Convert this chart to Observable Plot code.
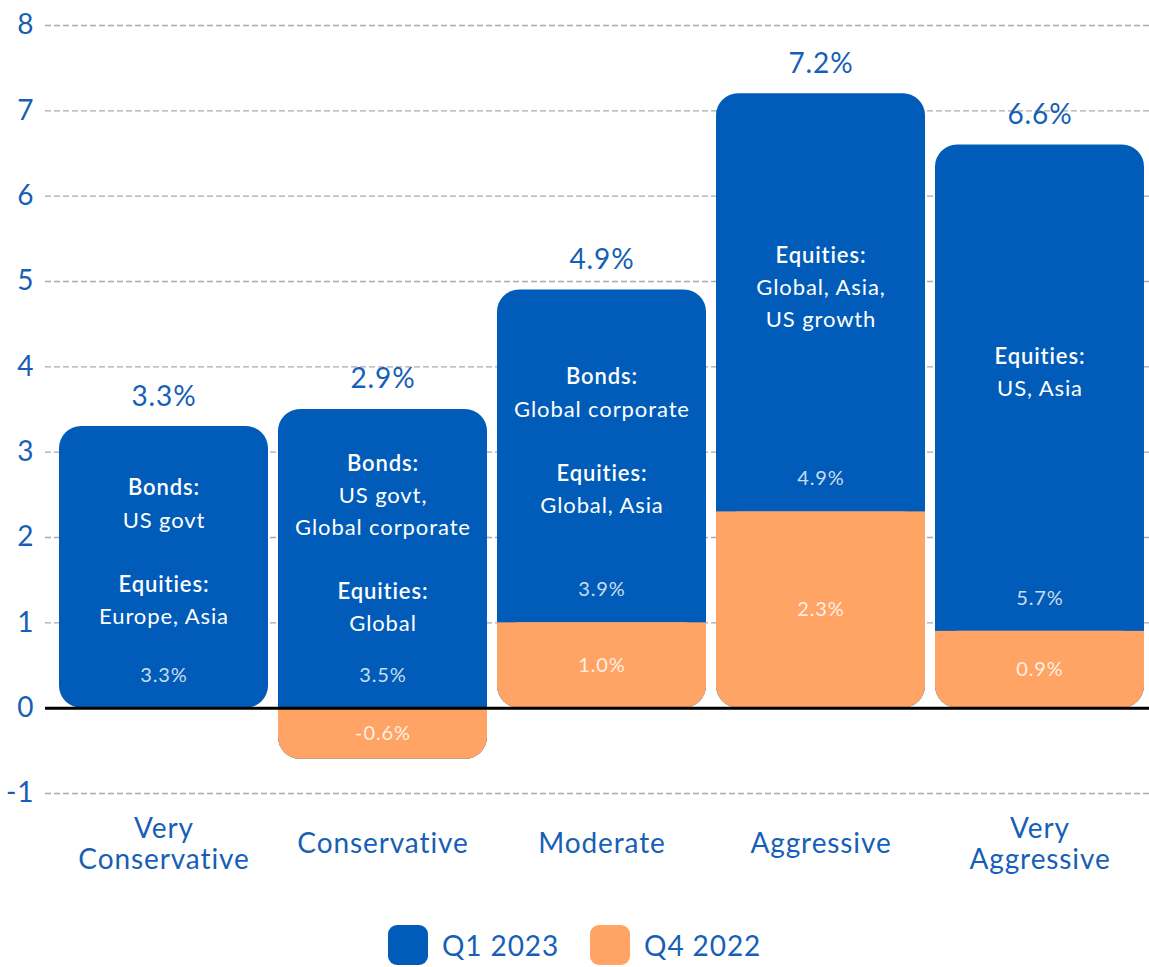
<!DOCTYPE html>
<html><head><meta charset="utf-8">
<script src="https://cdn.jsdelivr.net/npm/d3@7"></script>
<script src="https://cdn.jsdelivr.net/npm/@observablehq/plot@0.6"></script>
<style>
body{margin:0;background:#fff;font-family:Lato, "Open Sans", sans-serif;font-variant-ligatures:none;}
svg text{font-variant-ligatures:none;letter-spacing:0.9px;}
#legend{display:flex;align-items:center;margin-left:388px;margin-top:25px;height:40px;}
.sw{width:40px;height:40px;border-radius:9px;}
.lab{font-size:28px;color:#175FB6;margin-left:14px;margin-right:31px;letter-spacing:0.9px;}
</style></head><body>
<div id="chart"></div>
<div id="legend"></div>
<script>
const categories = ["Very Conservative","Conservative","Moderate","Aggressive","Very Aggressive"];
const categoryLabels = ["Very\nConservative","Conservative","Moderate","Aggressive","Very\nAggressive"];
const q1_2023 = [3.3, 3.5, 3.9, 4.9, 5.7];
const q4_2022 = [0, -0.6, 1.0, 2.3, 0.9];
const totals = [3.3, 2.9, 4.9, 7.2, 6.6];
const yTicks = [-1, 0, 1, 2, 3, 4, 5, 6, 7, 8];
const notes = [
  [["Bonds:", "US govt"], ["Equities:", "Europe, Asia"]],
  [["Bonds:", "US govt,", "Global corporate"], ["Equities:", "Global"]],
  [["Bonds:", "Global corporate"], ["Equities:", "Global, Asia"]],
  [["Equities:", "Global, Asia,", "US growth"]],
  [["Equities:", "US, Asia"]]
];
const series = ["Q1 2023", "Q4 2022"];
const colors = ["#005CB8", "#FFA464"];
const textBlue = "#175FB6";

const rows = categories.map((c, i) => {
  const a = q1_2023[i], b = q4_2022[i];
  const blue = b >= 0 ? [b, b + a] : [0, a];
  const orange = b >= 0 ? [0, b] : [b, 0];
  return {c, i, a, b, total: totals[i],
    blueLo: blue[0], blueHi: blue[1], orLo: orange[0], orHi: orange[1],
    lo: Math.min(blue[0], orange[0]), hi: Math.max(blue[1], orange[1])};
});
const withQ4 = rows.filter(r => r.b !== 0);

function noteText(groups, heading) {
  const lines = [];
  groups.forEach((g, gi) => {
    if (gi > 0) lines.push("");
    g.forEach((t, ti) => lines.push((ti === 0) === heading ? t : ""));
  });
  return lines.join("\n");
}

const fmt = v => v.toFixed(1) + "%";

const plot = Plot.plot({
  width: 1149, height: 900,
  marginTop: 25, marginBottom: 107, marginLeft: 45, marginRight: 0,
  style: {fontFamily: "Lato, 'Open Sans', sans-serif", background: "white", overflow: "visible"},
  x: {domain: categories, range: [54, 1149], paddingInner: 0.046, paddingOuter: 0.023, axis: null},
  y: {domain: [-1, 8], axis: null},
  marks: [
    Plot.ruleY(yTicks.filter(d => d !== 0), {stroke: "#aaa", strokeDasharray: "6,3", strokeWidth: 1.3}),
    Plot.axisY(yTicks, {anchor: "left", tickSize: 0, tickPadding: 11, fontSize: 28, fill: textBlue, label: null, tickFormat: d => String(d)}),
    Plot.barY(rows, {x: "c", y1: "lo", y2: "hi", fill: colors[0], rx: 22}),
    Plot.barY(withQ4, {x: "c", y1: "orLo", y2: "orHi", fill: colors[1], rx: 22}),
    Plot.barY(withQ4, {x: "c", y1: r => r.b / 2, y2: r => (r.b > 0 ? r.b : 0), fill: colors[1]}),
    Plot.ruleY([0], {stroke: "black", strokeWidth: 3}),
    Plot.text(rows, {x: "c", y: "hi", text: r => fmt(r.total), dy: -30, fontSize: 28, fill: textBlue}),
    Plot.text(rows, {x: "c", y: "blueLo", text: r => fmt(r.a), dy: -33, fontSize: 20, fill: "white", fillOpacity: 0.8}),
    Plot.text(withQ4, {x: "c", y: r => (r.orLo + r.orHi) / 2, text: r => fmt(r.b), fontSize: 20, fill: "white", fillOpacity: 0.85}),
    Plot.text(rows, {x: "c", y: r => (r.blueLo + r.blueHi) / 2, text: r => noteText(notes[r.i], true), dy: -18, fontSize: 22, fontWeight: 600, fill: "white", lineHeight: 1.46, lineAnchor: "middle"}),
    Plot.text(rows, {x: "c", y: r => (r.blueLo + r.blueHi) / 2, text: r => noteText(notes[r.i], false), dy: -18, fontSize: 22, fill: "white", lineHeight: 1.46, lineAnchor: "middle"}),
    Plot.text(rows, {x: "c", text: r => categoryLabels[r.i], frameAnchor: "bottom", lineAnchor: "middle", dy: 50, fontSize: 28, fill: textBlue, lineHeight: 1.1})
  ]
});
document.getElementById("chart").appendChild(plot);

const legend = document.getElementById("legend");
series.forEach((s, i) => {
  const sw = document.createElement("div");
  sw.className = "sw"; sw.style.background = colors[i];
  const lab = document.createElement("div");
  lab.className = "lab"; lab.textContent = s;
  legend.appendChild(sw); legend.appendChild(lab);
});
</script>
</body></html>
